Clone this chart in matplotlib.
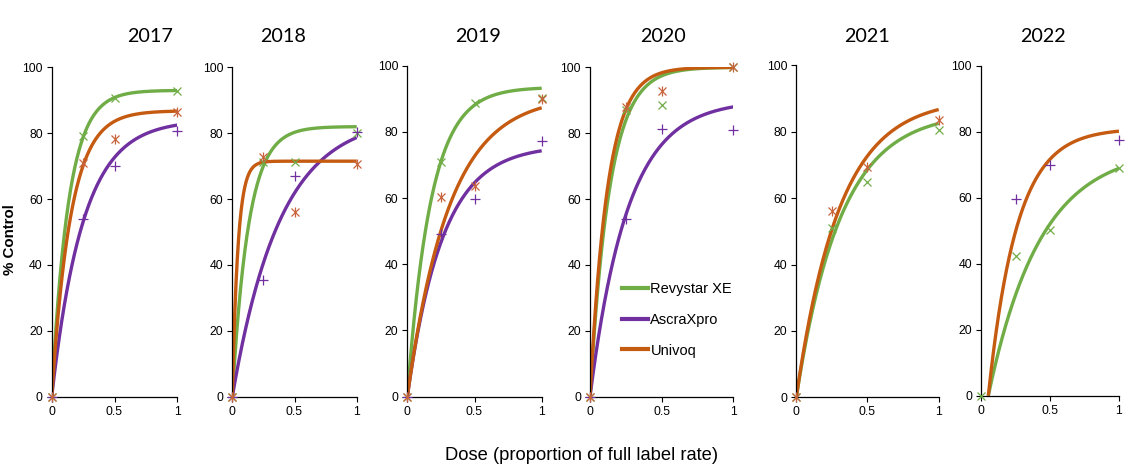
import numpy as np
import matplotlib
matplotlib.use("Agg")
import matplotlib.pyplot as plt
from matplotlib.lines import Line2D

plt.rcParams['font.family'] = ['Liberation Sans', 'DejaVu Sans']

# ---------------- data ----------------
years = [2017, 2018, 2019, 2020, 2021, 2022]
dose = [0, 0.25, 0.5, 1]

revystar_obs = {
    2017: [0, 79.1, 90.6, 92.7],
    2018: [0, 71.4, 71.3, 80.2],
    2019: [0, 70.8, 88.6, 90.1],
    2020: [0, 87.0, 88.6, 100.0],
    2021: [0, 51.1, 64.8, 80.5],
    2022: [0, 42.4, 50.2, 68.9],
}
ascra_obs = {
    2017: [0, 53.8, 70.0, 80.6],
    2018: [0, 35.4, 67.0, 80.5],
    2019: [0, 49.3, 59.6, 77.2],
    2020: [0, 53.9, 81.4, 81.0],
    2021: None,
    2022: [None, 59.6, 69.9, 77.4],
}
univoq_obs = {
    2017: [0, 70.9, 78.1, 86.4],
    2018: [0, 72.9, 56.0, 70.5],
    2019: [0, 60.3, 63.6, 89.8],
    2020: [0, 87.9, 92.8, 100.0],
    2021: [0, 56.2, 69.5, 83.5],
    2022: None,
}
# fitted curve parameters: (asymptote, rate, dose offset)
revystar_fit = {2017: (93, 7.5, 0), 2018: (82, 7.7, 0), 2019: (93.5, 5.7, 0),
                2020: (100, 7.3, 0), 2021: (86, 3.2, 0), 2022: (75, 2.65, 0.053)}
ascra_fit = {2017: (84, 4.0, 0), 2018: (85, 2.6, 0), 2019: (76, 3.8, 0),
             2020: (90, 3.8, 0), 2021: None, 2022: None}
univoq_fit = {2017: (86.8, 6.6, 0), 2018: (71.5, 22, 0), 2019: (91, 3.2, 0),
              2020: (100, 8.2, 0), 2021: (90, 3.3, 0), 2022: (81, 4.83, 0.053)}

products = ["Revystar XE", "AscraXpro", "Univoq"]
line_colors = {"Revystar XE": "#70AD47", "AscraXpro": "#7030A0", "Univoq": "#C55A11"}
marker_colors = {"Revystar XE": "#70AD47", "AscraXpro": "#7030A0", "Univoq": "#C8643C"}
obs = {"Revystar XE": revystar_obs, "AscraXpro": ascra_obs, "Univoq": univoq_obs}
fits = {"Revystar XE": revystar_fit, "AscraXpro": ascra_fit, "Univoq": univoq_fit}

# ---------------- layout ----------------
W, H = 1139, 476
fig = plt.figure(figsize=(W / 100, H / 100), dpi=100)

# panel pixel boxes: left, right, bottom, top
boxes = [(51.7, 177.3, 396.7, 67.3),
         (232.3, 356.7, 396.7, 67.3),
         (407.3, 541.7, 396.7, 65.7),
         (590.0, 733.3, 396.7, 67.3),
         (796.3, 938.7, 397.3, 65.3),
         (981.0, 1119.0, 395.7, 65.7)]
title_x = [150, 283, 478, 663, 867, 1043]

axes = []
for i, yr in enumerate(years):
    l, r, b, t = boxes[i]
    ax = fig.add_axes([l / W, 1 - b / H, (r - l) / W, (b - t) / H])
    axes.append(ax)
    ax.set_xlim(0, 1)
    ax.set_ylim(0, 100)
    for s in ['top', 'right']:
        ax.spines[s].set_visible(False)
    for s in ['left', 'bottom']:
        ax.spines[s].set_linewidth(0.9)
        ax.spines[s].set_color('black')
    ax.set_yticks([0, 20, 40, 60, 80, 100])
    ax.set_xticks([0, 0.5, 1])
    ax.set_xticklabels(["0", "0.5", "1"])
    ax.tick_params(direction='out', length=3.5, width=0.8, labelsize=8.8,
                   pad=3, colors='black')

    # curves
    for p in products:
        fp = fits[p][yr]
        if fp is None:
            continue
        A, k, x0 = fp
        xx = np.linspace(x0, 1, 300)
        yy = A * (1 - np.exp(-k * (xx - x0)))
        ax.plot(xx, yy, color=line_colors[p], lw=2.4, solid_capstyle='butt',
                zorder=2)

    # observed points
    for p in products:
        vals = obs[p][yr]
        if vals is None:
            continue
        xs = [d for d, v in zip(dose, vals) if v is not None]
        ys = [v for v in vals if v is not None]
        c = marker_colors[p]
        if p == "Revystar XE":
            ax.plot(xs, ys, ls='none', marker='x', ms=6, mew=0.9, color=c,
                    clip_on=False, zorder=3)
        elif p == "AscraXpro":
            ax.plot(xs, ys, ls='none', marker='+', ms=7, mew=0.9, color=c,
                    clip_on=False, zorder=3)
        else:
            ax.plot(xs, ys, ls='none', marker='x', ms=6, mew=0.9, color=c,
                    clip_on=False, zorder=3)
            ax.plot(xs, ys, ls='none', marker='|', ms=7, mew=0.9, color=c,
                    clip_on=False, zorder=3)

    fig.text(title_x[i] / W, 1 - 36 / H, str(yr), ha='center', va='center',
             fontsize=14.2, family=['Lato', 'DejaVu Sans'])

# legend in 2020 panel
handles = [Line2D([0], [0], color=line_colors[p], lw=3) for p in products]
fig.legend(handles, products, loc='upper left',
           bbox_to_anchor=(622 / W, 1 - 282 / H), frameon=False,
           fontsize=10.5, handlelength=1.8, handletextpad=0.15,
           labelspacing=1.15, borderaxespad=0, borderpad=0)

fig.text(10 / W, 1 - 240 / H, "% Control", rotation=90, ha='center',
         va='center', fontsize=10.8, fontweight='bold')
fig.text(582 / W, 1 - 456 / H, "Dose (proportion of full label rate)",
         ha='center', va='center', fontsize=13.2)

fig.savefig("out.png", dpi=100)
